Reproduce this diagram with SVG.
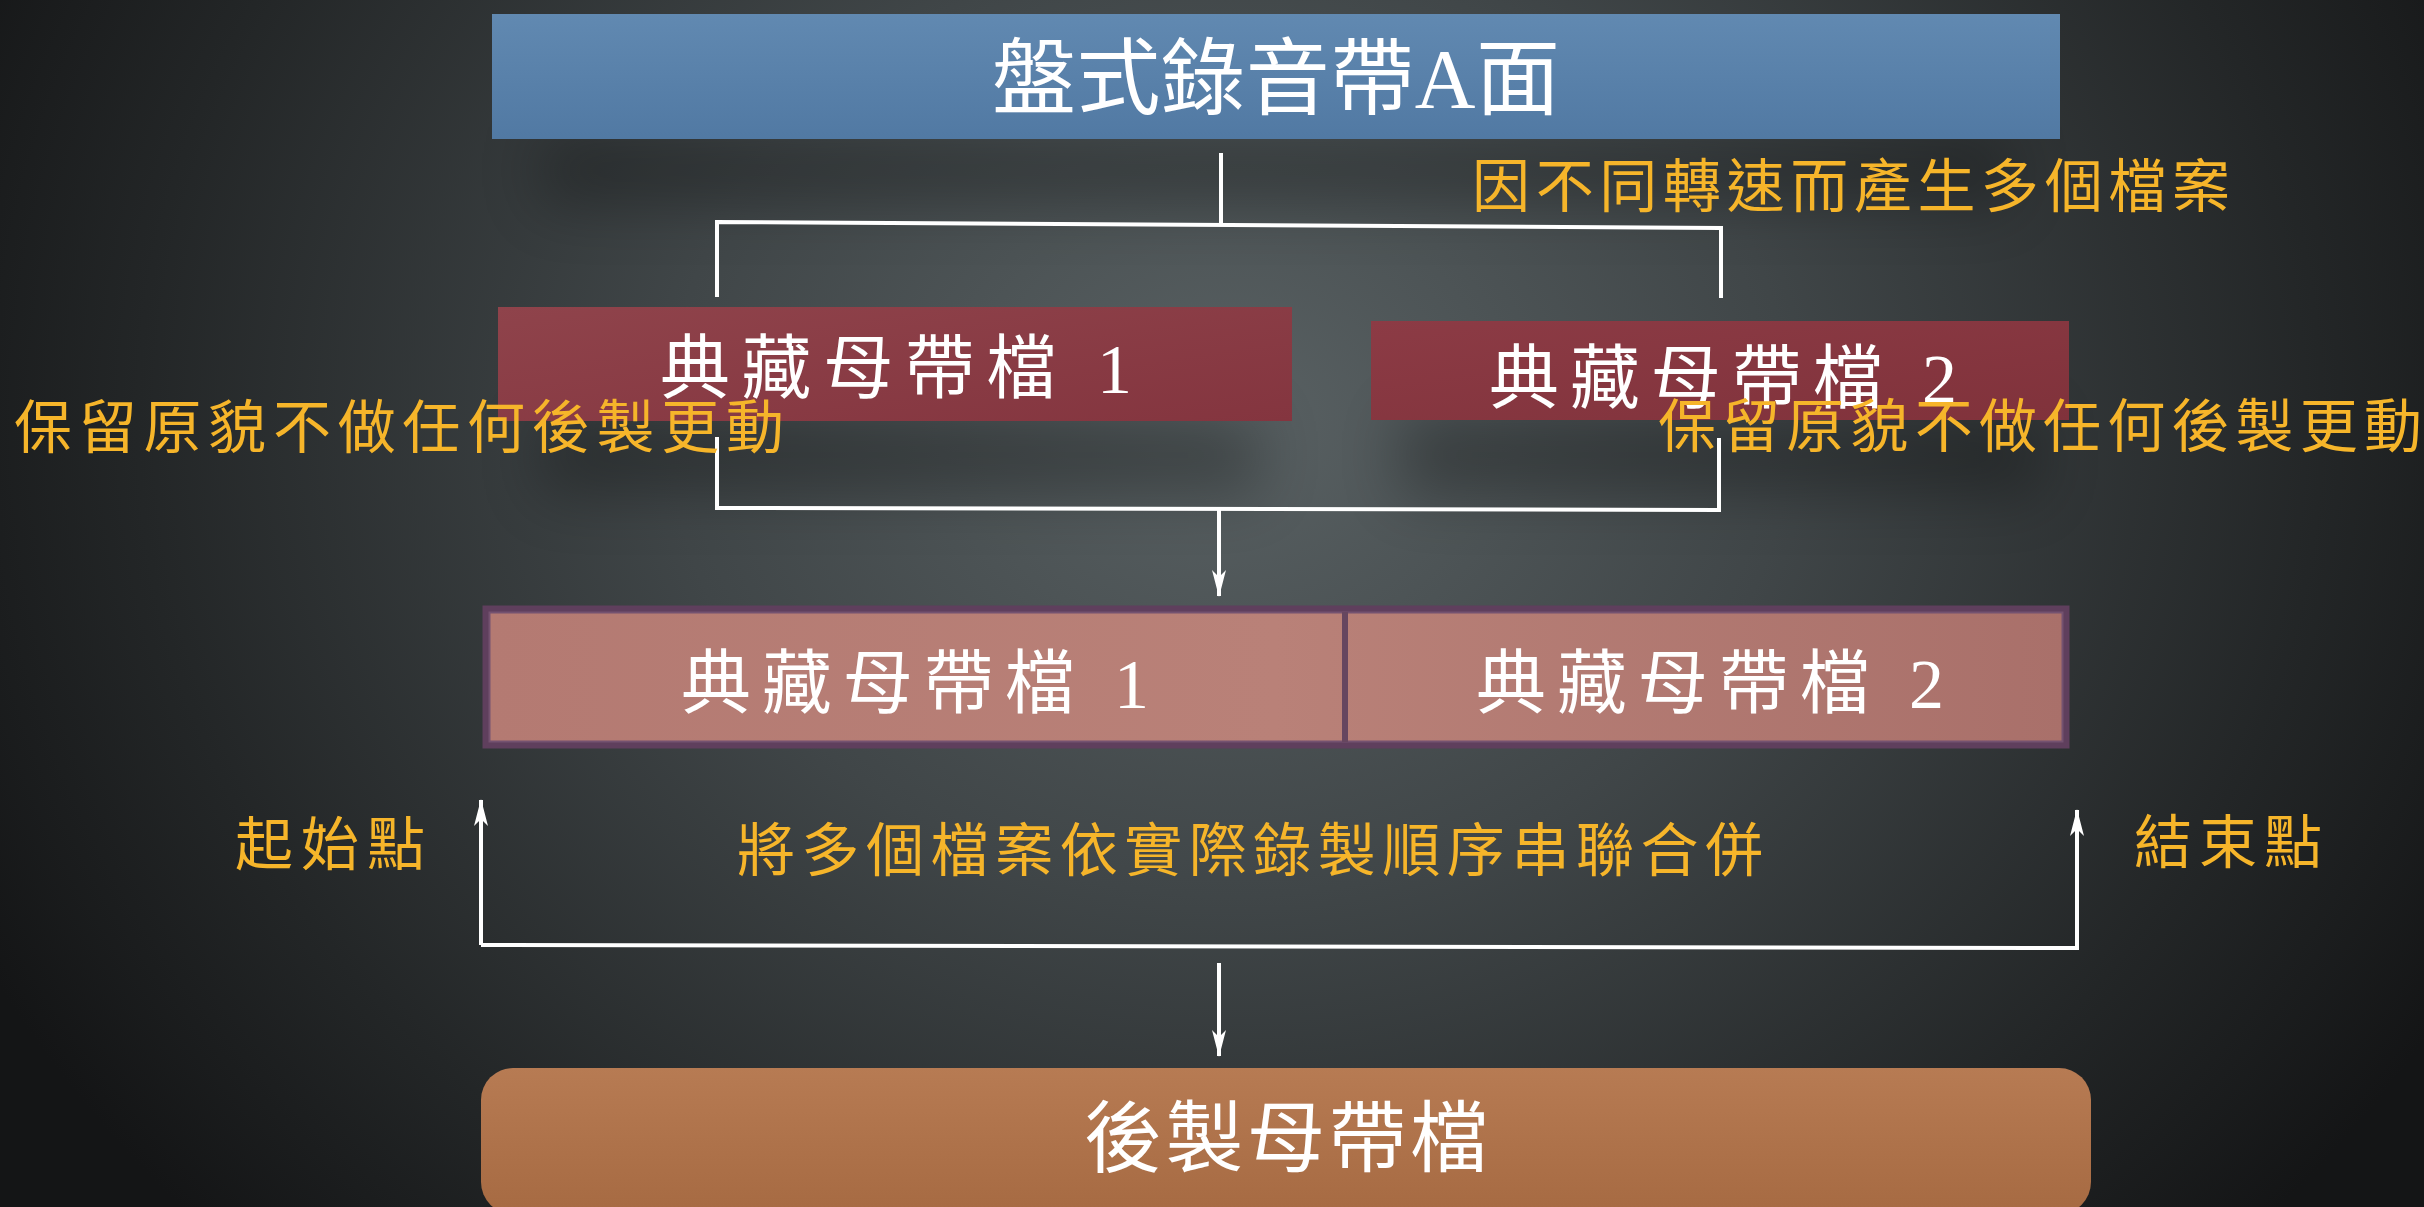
<svg xmlns="http://www.w3.org/2000/svg" width="2424" height="1207" viewBox="0 0 2424 1207">
  <defs>
    <radialGradient id="bg" cx="1230" cy="420" r="1400" gradientUnits="userSpaceOnUse" gradientTransform="translate(1230 420) scale(1 0.85) translate(-1230 -420)">
      <stop offset="0" stop-color="#596163"/>
      <stop offset="0.4" stop-color="#404648"/>
      <stop offset="0.78" stop-color="#232627"/>
      <stop offset="1" stop-color="#141516"/>
    </radialGradient>
    <linearGradient id="blue" x1="0" y1="0" x2="0" y2="1">
      <stop offset="0" stop-color="#6189b1"/>
      <stop offset="1" stop-color="#5179a3"/>
    </linearGradient>
    <linearGradient id="red1" x1="0" y1="0" x2="1" y2="1">
      <stop offset="0" stop-color="#8f434b"/>
      <stop offset="1" stop-color="#84353f"/>
    </linearGradient>
    <linearGradient id="red2" x1="0" y1="0" x2="1" y2="1">
      <stop offset="0" stop-color="#8c3b45"/>
      <stop offset="1" stop-color="#80323b"/>
    </linearGradient>
    <linearGradient id="pink" x1="0" y1="0" x2="1" y2="0">
      <stop offset="0" stop-color="#b47a72"/>
      <stop offset="0.5" stop-color="#b98178"/>
      <stop offset="1" stop-color="#a9706a"/>
    </linearGradient>
    <linearGradient id="copper" x1="0" y1="0" x2="0" y2="1">
      <stop offset="0" stop-color="#b77b53"/>
      <stop offset="1" stop-color="#a66a42"/>
    </linearGradient>
    <filter id="shadow" x="-20%" y="-80%" width="140%" height="300%">
      <feGaussianBlur stdDeviation="30"/>
    </filter>
    <marker id="arrow" markerUnits="userSpaceOnUse" markerWidth="30" markerHeight="20" viewBox="-28 -10 30 20" refX="0" refY="0" orient="auto">
      <path d="M1,0 L-26,-7 L-19,0 L-26,7 Z" fill="#ffffff"/>
    </marker>
    <style>
      .conn { fill: none; stroke: #ffffff; stroke-width: 4; stroke-linejoin: miter; }
      .white { fill: #ffffff; font-family: "Liberation Serif", "Noto Sans CJK TC", serif; text-anchor: middle; }
      .orange { fill: #f6b52a; font-family: "Liberation Serif", "Noto Sans CJK TC", serif; text-anchor: middle; font-size: 58px; }
      .shade { fill: #000000; opacity: 0.28; filter: url(#shadow); }
    </style>
  </defs>

  <rect x="0" y="0" width="2424" height="1207" fill="url(#bg)"/>

  <!-- soft shadows under boxes -->
  <rect class="shade" x="540" y="135" width="1470" height="70"/>
  <rect class="shade" x="540" y="415" width="720" height="80"/>
  <rect class="shade" x="1400" y="415" width="640" height="80"/>

  <g id="connectors">
    <path class="conn" d="M1221,153 L1221,224"/>
    <path class="conn" d="M717,297 L717,222 L1721,228 L1721,298"/>
    <path class="conn" d="M717,437 L717,508 L1719,510 L1719,438"/>
    <path class="conn" d="M1219,508 L1219,596" marker-end="url(#arrow)"/>
    <path class="conn" d="M481,945 L2079,948"/>
    <path class="conn" d="M481,945 L481,800" marker-end="url(#arrow)"/>
    <path class="conn" d="M2077,948 L2077,810" marker-end="url(#arrow)"/>
    <path class="conn" d="M1219,963 L1219,1056" marker-end="url(#arrow)"/>
  </g>

  <g id="node-tape-a">
    <rect x="492" y="14" width="1568" height="125" fill="url(#blue)"/>
    <text class="white" x="1276" y="108" font-size="84" textLength="568" lengthAdjust="spacing">盤式錄音帶A面</text>
  </g>

  <g id="label-multi">
    <text class="orange" x="1851" y="207" textLength="758" lengthAdjust="spacing">因不同轉速而產生多個檔案</text>
  </g>

  <g id="node-archive-1">
    <rect x="498" y="307" width="794" height="114" fill="url(#red1)"/>
    <text class="white" x="896" y="393" font-size="70" textLength="472" lengthAdjust="spacing">典藏母帶檔 1</text>
  </g>

  <g id="node-archive-2">
    <rect x="1371" y="321" width="698" height="99" fill="url(#red2)"/>
    <text class="white" x="1723" y="403" font-size="70" textLength="468" lengthAdjust="spacing">典藏母帶檔 2</text>
  </g>

  <g id="label-keep-left">
    <text class="orange" x="399" y="448" textLength="770" lengthAdjust="spacing">保留原貌不做任何後製更動</text>
  </g>
  <g id="label-keep-right">
    <text class="orange" x="2040" y="447" textLength="764" lengthAdjust="spacing">保留原貌不做任何後製更動</text>
  </g>

  <g id="node-merged">
    <rect x="486" y="609" width="1580" height="136" fill="url(#pink)" stroke="#5f3f5d" stroke-width="7"/>
    <rect x="489.5" y="612.5" width="1573" height="129" fill="none" stroke="#745270" stroke-width="2"/>
    <line x1="1345" y1="612" x2="1345" y2="742" stroke="#66465f" stroke-width="6"/>
    <text class="white" x="915" y="708" font-size="70" textLength="468" lengthAdjust="spacing">典藏母帶檔 1</text>
    <text class="white" x="1710" y="708" font-size="70" textLength="468" lengthAdjust="spacing">典藏母帶檔 2</text>
  </g>

  <g id="label-start">
    <text class="orange" x="330" y="865" textLength="190" lengthAdjust="spacing">起始點</text>
  </g>
  <g id="label-concat">
    <text class="orange" x="1250" y="871" textLength="1026" lengthAdjust="spacing">將多個檔案依實際錄製順序串聯合併</text>
  </g>
  <g id="label-end">
    <text class="orange" x="2228" y="863" textLength="188" lengthAdjust="spacing">結束點</text>
  </g>

  <g id="node-post-master">
    <rect x="481" y="1068" width="1610" height="146" rx="32" ry="32" fill="url(#copper)"/>
    <text class="white" x="1286" y="1166" font-size="78" textLength="404" lengthAdjust="spacing">後製母帶檔</text>
  </g>
</svg>
